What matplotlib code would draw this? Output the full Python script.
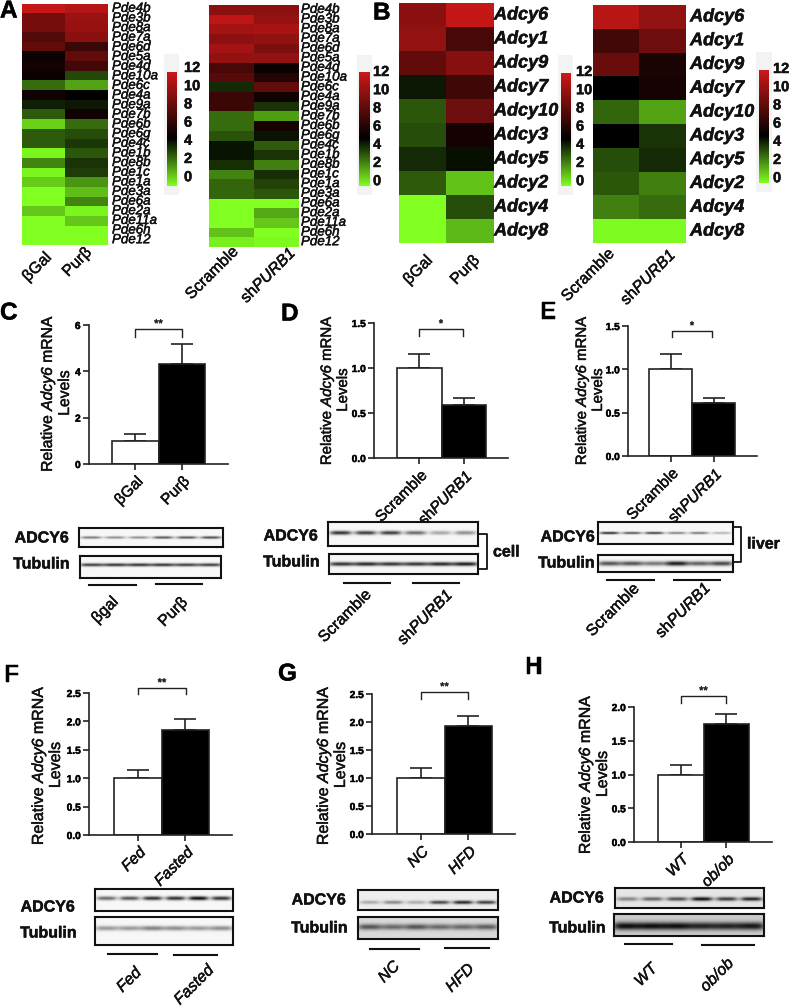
import numpy as np
import matplotlib
matplotlib.use("Agg")
import matplotlib.pyplot as plt
from matplotlib.colors import LinearSegmentedColormap
from matplotlib.text import Text
import matplotlib.patheffects as pe

plt.rcParams['font.family'] = ['Liberation Sans', 'DejaVu Sans']
plt.rcParams['mathtext.fontset'] = 'custom'
plt.rcParams['mathtext.rm'] = 'Liberation Sans'
plt.rcParams['mathtext.cal'] = 'Liberation Sans:italic'

W, H = 789, 1006

# heatmap data
pde_genes_a1 = ["Pde4b", "Pde3b", "Pde8a", "Pde7a", "Pde6d", "Pde5a", "Pde4d", "Pde10a", "Pde6c", "Pde4a",
                "Pde9a", "Pde7b", "Pde6b", "Pde6g", "Pde4c", "Pde1b", "Pde8b", "Pde1c", "Pde1a", "Pde3a",
                "Pde6a", "Pde2a", "Pde11a", "Pde6h", "Pde12"]
pde_bgal = [11.8, 9, 9, 7.8, 8.3, 5.5, 5.7, 5.4, 2.9, 5.6, 4.4, 3.2, 0.9, 3.2, 3.2, 0.2, 2.4, 0.2, 1.0, 0, 0, 1.1, 0, 0, 0]
pde_purb = [11.2, 10.3, 10.2, 9.8, 7.0, 8.3, 7.3, 3.6, 1.8, 5.0, 4.5, 5.6, 2.9, 3.5, 3.9, 3.3, 4.0, 3.8, 2.1, 1.3, 2.4, 0.2, 1.1, 0, 0]
pde_scramble = [9.8, 11.5, 10.6, 9.8, 10.6, 10, 7.5, 8, 4.2, 7, 7, 2.9, 2.9, 3.4, 4.6, 4.6, 4.1, 2.4, 3.0, 3.0, 0, 0, 0, 1.2, 0.3]
pde_shpurb1 = [9.8, 10, 10.8, 10, 9.3, 10, 5.4, 6.2, 8.3, 5.6, 4, 1.9, 5.8, 4.6, 3.2, 4.0, 2.5, 4.1, 3.7, 3.3, 0, 1.7, 1.1, 0, 0.1]
adcy_genes = ["Adcy6", "Adcy1", "Adcy9", "Adcy7", "Adcy10", "Adcy3", "Adcy5", "Adcy2", "Adcy4", "Adcy8"]
adcy_bgal = [9.8, 10, 8.3, 4.5, 3.3, 3.5, 4.2, 3.2, 0, 0]
adcy_purb = [11.8, 7.5, 9.6, 7.2, 8.8, 5.7, 4.7, 1.2, 3.5, 1.4]
adcy_scramble = [11.3, 7.3, 8.6, 5, 3, 5, 3.5, 3.3, 2.5, 0.1]
adcy_shpurb1 = [10, 8.8, 5.9, 5.8, 1.8, 4.0, 4.2, 2.5, 2.9, 0.1]
bar_ticks = [12, 10, 8, 6, 4, 2, 0]

# bar data
c_means, c_errs = [1.0, 4.33], [1.3, 5.17]
d_means, d_errs = [1.0, 0.59], [1.15, 0.665]
e_means, e_errs = [1.0, 0.61], [1.18, 0.665]
f_means, f_errs = [1.0, 1.85], [1.14, 2.04]
g_means, g_errs = [1.0, 1.92], [1.17, 2.1]
h_means, h_errs = [1.0, 1.75], [1.14, 1.9]

# western blot band strengths, six lanes each
c_adcy, c_tub = [.55, .45, .45, .7, .7, .75], [.8, .85, .85, .85, .8, .8]
d_adcy, d_tub = [.85, .8, .8, .6, .35, .45], [.85, .9, .85, .85, .9, .95]
e_adcy, e_tub = [.9, .7, .8, .5, .55, .3], [.7, .7, .55, .95, .65, .75]
f_adcy, f_tub = [.6, .7, .85, .85, 1, .85], [.4, .4, .5, .45, .4, .45]
g_adcy, g_tub = [.3, .45, .3, .75, .9, .8], [.65, .55, .65, .55, .55, .6]
h_adcy, h_tub = [.45, .6, .7, 1, .8, .9], [1, 1, 1, .9, .9, .95]

cmap = LinearSegmentedColormap.from_list("gbr", [(0, "#80ff20"), (5 / 12, "#000000"), (1, "#cc1818")])
YLABEL = "Relative $\\mathcal{Adcy6}$ mRNA\nLevels"
SH = "sh$\\mathcal{PURB1}$"

fig = plt.figure(figsize=(W / 100, H / 100), dpi=100)
ov = fig.add_axes([0, 0, 1, 1], zorder=5)
ov.set_xlim(0, W)
ov.set_ylim(H, 0)
ov.axis("off")


def box_axes(x0, y0, x1, y1):
    return fig.add_axes([x0 / W, 1 - y1 / H, (x1 - x0) / W, (y1 - y0) / H])


def heatmap(x0, y0, x1, y1, col1, col2, genes, label_x, size, weight, names, name_pos):
    ax = box_axes(x0, y0, x1, y1)
    im = ax.imshow(np.column_stack([col1, col2]), cmap=cmap, vmin=0, vmax=12, aspect="auto", interpolation="nearest")
    ax.axis("off")
    step = (y1 - y0) / len(genes)
    for i, g in enumerate(genes):
        ov.text(label_x, y0 + (i + 0.5) * step, g, style="italic", weight=weight, fontsize=size, va="center", color="#111111")
    for name, (nx, ny) in zip(names, name_pos):
        ov.text(nx, ny, name, rotation=45, ha="center", va="center", fontsize=11.5, color="#111111")
    return im


def colorbar(im, x0, y0, x1, y1, bg, label_x, label_y):
    ov.fill_between([bg[0], bg[2]], bg[1], bg[3], color="#f3f3f3", lw=0, zorder=0)
    cax = box_axes(x0, y0, x1, y1)
    cb = fig.colorbar(im, cax=cax)
    cb.set_ticks([])
    cb.outline.set_visible(False)
    cax.set_zorder(6)
    for i, t in enumerate(bar_ticks):
        ov.text(label_x, label_y + i * 18.2, str(t), fontsize=10.5, weight="bold", va="center", color="#111111")


def bars(box, edges, ymax, yticks, means, errs, names, bracket, stars, ylab_pos, italic=False, ylab_size=11):
    x0, y0, x1, y1 = box
    ax = box_axes(x0, y0, x1, y1)
    left, mid, right = edges
    w = ((mid - left) + (right - mid)) / 2
    ax.set_xlim((x0 - left) / w - 0.5, (x1 - left) / w - 0.5)
    ax.set_ylim(0, ymax)
    ax.bar([0, 1], means, width=1.0, color=["white", "black"], edgecolor="#222222", linewidth=1.2, zorder=2)
    ax.errorbar([0, 1], means, yerr=[[0, 0], np.array(errs) - np.array(means)], fmt="none",
                ecolor="#222222", elinewidth=1.2, capsize=8, capthick=1.2, zorder=1)
    for s in ["top", "right"]:
        ax.spines[s].set_visible(False)
    for s in ["left", "bottom"]:
        ax.spines[s].set_linewidth(1.2)
        ax.spines[s].set_color("#222222")
    ax.patch.set_alpha(0)
    ax.set_yticks(yticks)
    ax.set_yticklabels([("%.1f" % t if ymax < 6 else str(t)) for t in yticks], fontsize=7.3, weight="bold")
    ax.tick_params(axis="y", length=4, width=1.2, pad=2, color="#222222")
    ax.set_xticks([0, 1])
    ax.set_xticklabels(names, rotation=45, ha="right", rotation_mode="anchor", fontsize=11.2,
                       style="italic" if italic else "normal", color="#111111")
    ax.tick_params(axis="x", length=4, width=1.2, pad=3, color="#222222")
    ax.set_ylabel(YLABEL, fontsize=ylab_size, va="center", ha="center", linespacing=1.0, color="#111111")
    ax.yaxis.set_label_coords(ylab_pos[0], ylab_pos[1], transform=ov.transData)
    bx0, bx1, by0, by1 = bracket
    ov.plot([bx0, bx0, bx1, bx1], [by1, by0, by0, by1], color="#222222", lw=1.0)
    ov.text((bx0 + bx1) / 2, by0 - 5, stars, ha="center", va="center", fontsize=8, color="#222222")


def blot(box, bands, sigma, bg=0.97, band_y=0.5, lane_w=0.072):
    x0, y0, x1, y1 = box
    ax = box_axes(x0, y0, x1, y1)
    nx, ny = int(x1 - x0) * 2, int(y1 - y0) * 2
    xx, yy = np.meshgrid(np.linspace(0, 1, nx), np.linspace(0, 1, ny))
    img = np.full((ny, nx), bg, dtype=float)
    sy = sigma / (y1 - y0)
    for i, b in enumerate(bands):
        cx = (i + 0.5) / len(bands)
        lane = np.exp(-((xx - cx) / lane_w) ** 4)
        img -= (bg - 0.05) * b * lane * np.exp(-((yy - band_y) / sy) ** 2)
    ax.imshow(np.clip(img, 0, 1), cmap="gray", vmin=0, vmax=1, aspect="auto", interpolation="bilinear")
    ax.set_xticks([])
    ax.set_yticks([])
    for s in ax.spines.values():
        s.set_linewidth(1.5)
        s.set_color("#111111")


def blot_text(adcy_xy, tub_xy, lines, names, name_pos, italic=False, size=11.5, lab_size=11.5):
    ov.text(*adcy_xy, "ADCY6", ha="right", va="center", weight="bold", fontsize=lab_size, color="#111111")
    ov.text(*tub_xy, "Tubulin", ha="right", va="center", weight="bold", fontsize=lab_size, color="#111111")
    for (a, b, y) in lines:
        ov.plot([a, b], [y, y], color="#111111", lw=1.5)
    for name, (nx, ny) in zip(names, name_pos):
        ov.text(nx, ny, name, rotation=45, ha="center", va="center", fontsize=size, color="#111111",
                style="italic" if italic else "normal")


# heatmaps
im = heatmap(22, 4, 108, 245, pde_bgal, pde_purb, pde_genes_a1, 112, 9.6, "normal",
             ["βGal", "Purβ"], [(37, 267), (77, 262)])
colorbar(im, 167, 72, 177, 186, (164, 54, 179, 195), 184, 68)
im = heatmap(209, 5, 299, 247, pde_scramble, pde_shpurb1, pde_genes_a1, 301, 9.6, "normal",
             ["Scramble", SH], [(212, 273), (268, 275)])
colorbar(im, 359, 72, 370, 186, (357, 55, 372, 195), 373, 72)
im = heatmap(399, 3, 493, 243, adcy_bgal, adcy_purb, adcy_genes, 494, 13, "bold",
             ["βGal", "Purβ"], [(418, 270), (465, 270)])
colorbar(im, 561, 73, 571, 186, (558, 55, 573, 195), 576, 72)
im = heatmap(593, 5, 686, 243, adcy_scramble, adcy_shpurb1, adcy_genes, 690, 13, "bold",
             ["Scramble", SH], [(588, 275), (648, 277)])
colorbar(im, 759, 70, 769, 183, (756, 52, 772, 192), 773, 69)

# bar panels
bars((89, 325, 228, 464), (112, 158, 205), 6, [0, 2, 4, 6], c_means, c_errs, ["βGal", "Purβ"],
     (135, 182, 329, 337), "**", (55, 393), ylab_size=11.3)
bars((374, 323, 508, 458), (397, 441, 486), 1.5, [0, 0.5, 1, 1.5], d_means, d_errs, ["Scramble", SH],
     (419, 463, 329, 336), "*", (334, 390), ylab_size=10.8)
bars((628, 326, 757, 456), (649, 692, 735), 1.5, [0, 0.5, 1, 1.5], e_means, e_errs, ["Scramble", SH],
     (672, 712, 331, 337), "*", (589, 390), ylab_size=10.8)
bars((89, 693, 232, 835), (114, 161, 209), 2.5, [0, 0.5, 1, 1.5, 2, 2.5], f_means, f_errs, ["Fed", "Fasted"],
     (138, 186, 688, 694), "**", (46, 765), italic=True, ylab_size=11.5)
bars((372, 694, 515, 834), (397, 444, 492), 2.5, [0, 0.5, 1, 1.5, 2, 2.5], g_means, g_errs, ["NC", "HFD"],
     (421, 468, 692, 699), "**", (331, 765), italic=True, ylab_size=11.5)
bars((634, 707, 772, 842), (658, 703, 749), 2.0, [0, 0.5, 1, 1.5, 2], h_means, h_errs, ["WT", "ob/ob"],
     (681, 726, 696, 703), "**", (593, 774), italic=True, ylab_size=11.5)

# blots
blot((79, 528, 223, 547), c_adcy, 1.3)
blot((80, 556, 221, 578), c_tub, 1.6, band_y=0.4, lane_w=0.085)
blot_text((69, 538), (70, 564), [(89, 136, 585), (156, 202, 584)], ["βgal", "Purβ"], [(105, 610), (173, 612)])

blot((328, 522, 478, 546), d_adcy, 2.0, band_y=0.45)
blot((329, 554, 478, 574), d_tub, 2.0, lane_w=0.085)
blot_text((318, 536), (320, 562), [(344, 390, 583), (413, 459, 583)], ["Scramble", SH], [(345, 616), (425, 617)])
ov.plot([478, 487, 487, 478], [534, 534, 569, 569], color="#111111", lw=1.3)
ov.text(493, 552, "cell", weight="bold", fontsize=11.5, va="center", color="#111111")

blot((598, 522, 733, 544), e_adcy, 1.2, band_y=0.5)
blot((598, 555, 733, 572), e_tub, 2.4, lane_w=0.085)
blot_text((595, 537), (595, 563), [(607, 654, 580), (674, 720, 580)], ["Scramble", SH], [(613, 610), (683, 610)])
ov.plot([733, 741, 741, 733], [527, 527, 562, 562], color="#111111", lw=1.3)
ov.text(747, 544, "liver", weight="bold", fontsize=11.5, va="center", color="#111111")

blot((95, 889, 233, 911), f_adcy, 2.0, band_y=0.42)
blot((95, 917, 233, 945), f_tub, 2.4, band_y=0.4, lane_w=0.085)
blot_text((75, 907), (77, 933), [(108, 157, 954), (174, 217, 955)], ["Fed", "Fasted"], [(129, 980), (194, 985)], italic=True)

blot((358, 890, 498, 910), g_adcy, 1.8, bg=0.93, band_y=0.62)
blot((358, 917, 498, 939), g_tub, 3.0, bg=0.85, band_y=0.45, lane_w=0.085)
blot_text((346, 900), (348, 928), [(370, 419, 949), (445, 489, 948)], ["NC", "HFD"], [(389, 972), (460, 978)], italic=True)

blot((615, 888, 764, 908), h_adcy, 2.0, bg=0.9, band_y=0.55)
blot((614, 914, 764, 936), h_tub, 4.0, bg=0.8, band_y=0.55, lane_w=0.09)
blot_text((604, 898), (606, 928), [(625, 672, 944), (702, 754, 945)], ["WT", "ob/ob"], [(646, 975), (717, 975)], italic=True)

# panel letters
for letter, lx, ly in [("A", 0, 11), ("B", 373, 13), ("C", 0, 313), ("D", 281, 314), ("E", 540, 312),
                       ("F", 4, 675), ("G", 278, 674), ("H", 525, 667)]:
    ov.text(lx, ly, letter, fontsize=17.5, weight="bold", va="center", color="black")

# the reference text is heavier than plain regular weight
for t in fig.findobj(Text):
    t.set_path_effects([pe.withStroke(linewidth=0.35, foreground=t.get_color())])

fig.savefig("out.png", dpi=100)
